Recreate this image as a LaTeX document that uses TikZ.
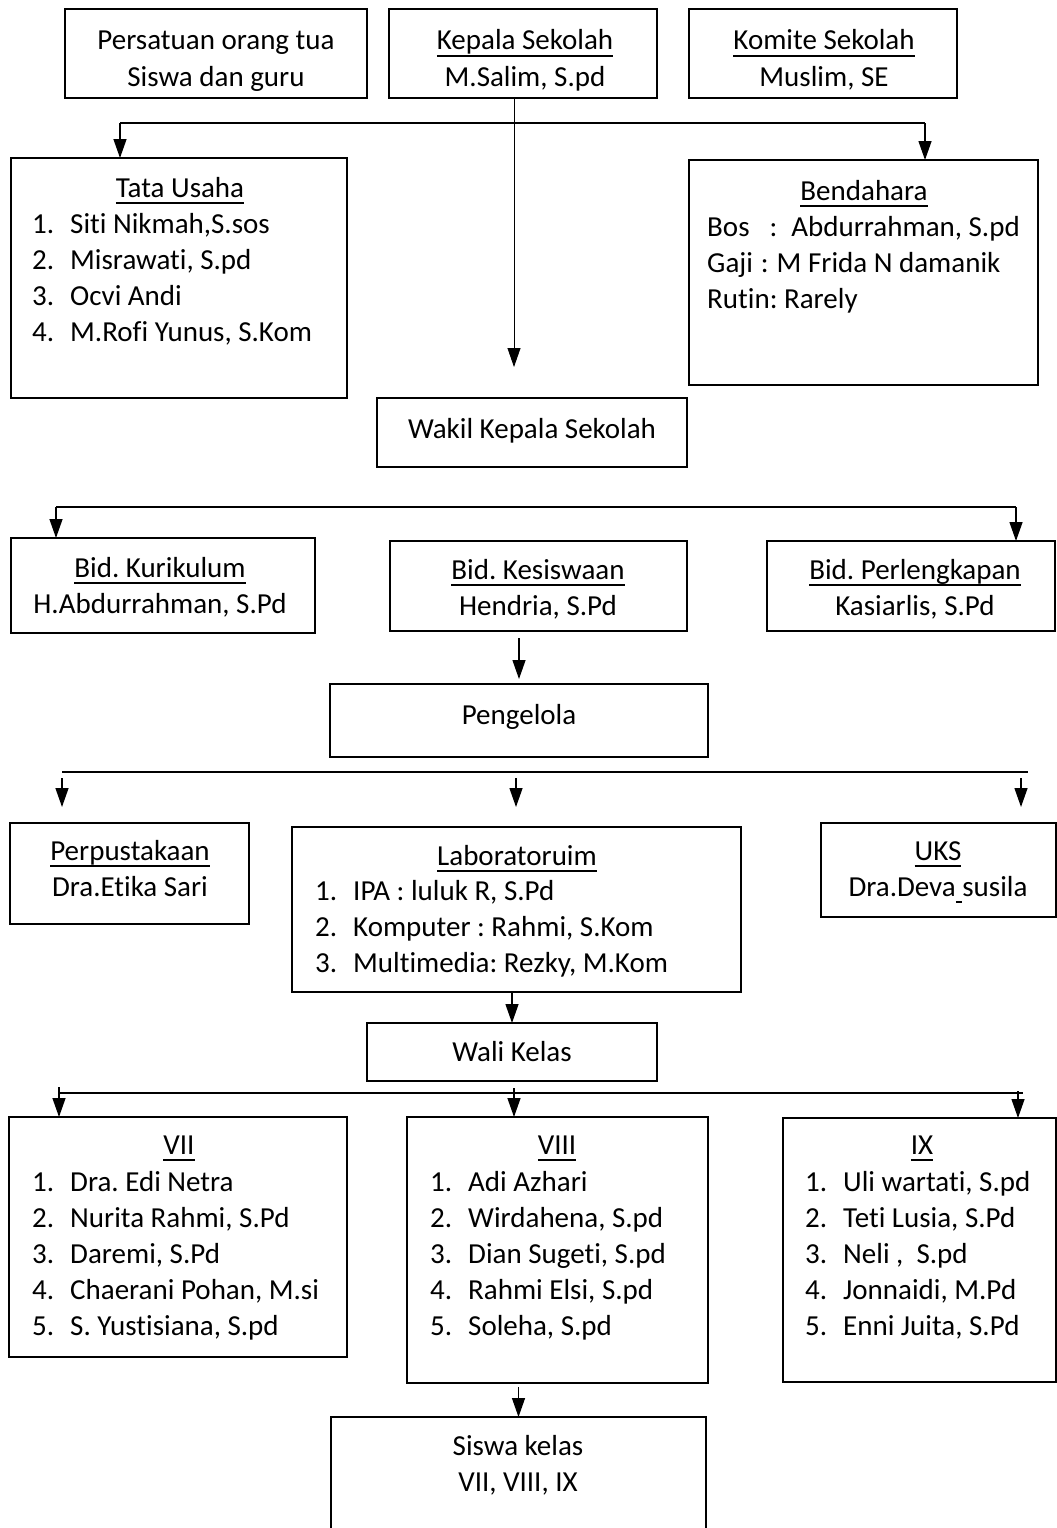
\documentclass[tikz,border=0pt]{standalone}
\usepackage{fontspec}
\setmainfont{Carlito}[Ligatures={NoCommon}, Contextuals={NoAlternate}]
\usepackage{tikz}
\usetikzlibrary{arrows.meta}

\frenchspacing
\newcommand{\fs}{\fontsize{29}{36}\selectfont}
\newsavebox{\ttlbox}
\newcommand{\ttl}[1]{\sbox{\ttlbox}{#1}\rlap{\rule[-7pt]{\wd\ttlbox}{2pt}}\usebox{\ttlbox}}
\newcommand{\itm}[1]{\makebox[38pt][l]{#1.}}

\begin{document}
\begin{tikzpicture}[x=1pt, y=-1pt,
    box/.style={draw, line width=1.5pt, anchor=north west, inner sep=0pt, outer sep=0pt},
    txt/.style={font=\fs, align=center, anchor=base, inner sep=0pt},
    lst/.style={font=\fs, align=left, anchor=base west, inner sep=0pt},
    arr/.style={-{Triangle[length=19pt,width=13pt]}, line width=1.3pt},
    bar/.style={line width=2.2pt}]
	\useasboundingbox (0,0) rectangle (1057,1528);

	% top row (text nodes sit on the baseline of their last line)
	\node[box, minimum width=302pt, minimum height=89pt] (ortu) at (65,9) {};
	\node[box, minimum width=268pt, minimum height=89pt] (kepsek) at (389,9) {};
	\node[box, minimum width=268pt, minimum height=89pt] (komite) at (689,9) {};
	\node[txt] (ortu-t) at (216,86) {Persatuan orang tua\\Siswa dan guru};
	\node[txt] (kepsek-t) at (525,86) {\ttl{Kepala Sekolah}\\M.Salim, S.pd};
	\node[txt] (komite-t) at (824,86) {\ttl{Komite Sekolah}\\Muslim, SE};

	% tata usaha, bendahara, wakil
	\node[box, minimum width=336pt, minimum height=240pt] (tata) at (11,158) {};
	\node[box, minimum width=349pt, minimum height=225pt] (benda) at (689,160) {};
	\node[box, minimum width=310pt, minimum height=69pt] (wakil) at (377,398) {};
	\node[txt] (tata-t) at (180,197) {\ttl{Tata Usaha}};
	\node[lst] (tata-l) at (32,341) {\itm{1}Siti Nikmah,S.sos\\\itm{2}Misrawati, S.pd\\\itm{3}Ocvi Andi\\\itm{4}M.Rofi Yunus, S.Kom};
	\node[txt] (benda-t) at (864,200) {\ttl{Bendahara}};
	\node[lst] (benda-l) at (707,308) {Bos\hspace{20pt}:\hspace{14pt}Abdurrahman, S.pd\\Gaji\hspace{8pt}:\hspace{8pt}M Frida N damanik\\Rutin: Rarely};
	\node[txt] (wakil-t) at (532,438) {Wakil Kepala Sekolah};

	\coordinate (k-end) at (514,367);
	\draw[arr, line width=0.8pt] (kepsek.south -| k-end) -- (k-end);
	\coordinate (b1l) at (120,123);
	\coordinate (b1r) at (925,123);
	\draw[bar] (b1l) -- (b1r);
	\draw[arr] (b1l) -- (b1l |- tata.north);
	\draw[arr] (b1r) -- (b1r |- benda.north);

	% bidang
	\node[box, minimum width=304pt, minimum height=95pt] (kurik) at (11,538) {};
	\node[box, minimum width=297pt, minimum height=90pt] (kesis) at (390,541) {};
	\node[box, minimum width=288pt, minimum height=90pt] (perl) at (767,541) {};
	\node[txt] (kurik-t) at (160,613) {\ttl{Bid. Kurikulum}\\H.Abdurrahman, S.Pd};
	\node[txt] (kesis-t) at (538,615) {\ttl{Bid. Kesiswaan}\\Hendria, S.Pd};
	\node[txt] (perl-t) at (915,615) {\ttl{Bid. Perlengkapan}\\Kasiarlis, S.Pd};

	\coordinate (b2l) at (56,507);
	\coordinate (b2r) at (1016,507);
	\draw[bar] (b2l) -- (b2r);
	\draw[arr] (b2l) -- (b2l |- kurik.north);
	\draw[arr] (b2r) -- (b2r |- perl.north);

	% pengelola
	\node[box, minimum width=378pt, minimum height=73pt] (peng) at (330,684) {};
	\node[txt] (peng-t) at (519,724) {Pengelola};
	\coordinate (p-end) at (519,679);
	\draw[arr] (kesis.south -| p-end) ++(0,7) -- (p-end);

	\coordinate (b3l) at (62,772);
	\coordinate (b3r) at (1028,772);
	\draw[bar] (b3l) -- (b3r);
	\coordinate (t-perpus) at (62,807);
	\coordinate (t-lab) at (516,807);
	\coordinate (t-uks) at (1021,807);
	\foreach \t in {t-perpus,t-lab,t-uks}
		\draw[arr] (\t) ++(0,-29) -- (\t);

	\node[box, minimum width=239pt, minimum height=101pt] (perpus) at (10,823) {};
	\node[box, minimum width=449pt, minimum height=165pt] (lab) at (292,827) {};
	\node[box, minimum width=235pt, minimum height=94pt] (uks) at (821,823) {};
	\node[txt] (perpus-t) at (130,896) {\ttl{Perpustakaan}\\Dra.Etika Sari};
	\node[txt] (lab-t) at (517,865) {\ttl{Laboratoruim}};
	\node[lst] (lab-l) at (315,972) {\itm{1}IPA : luluk R, S.Pd\\\itm{2}Komputer : Rahmi, S.Kom\\\itm{3}Multimedia: Rezky, M.Kom};
	\node[txt] (uks-t) at (938,896) {\ttl{UKS}\\Dra.Deva\ttl{\ }susila};

	% wali kelas
	\node[box, minimum width=290pt, minimum height=58pt] (wali) at (367,1023) {};
	\node[txt] (wali-t) at (512,1061) {Wali Kelas};
	\draw[arr] (lab.south -| wali.north) -- (wali.north);

	\coordinate (b4l) at (59,1093);
	\coordinate (b4r) at (1023,1093);
	\draw[bar] (b4l) -- (b4r);

	\node[box, minimum width=338pt, minimum height=240pt] (vii) at (9,1117) {};
	\node[box, minimum width=301pt, minimum height=266pt] (viii) at (407,1117) {};
	\node[box, minimum width=273pt, minimum height=264pt] (ix) at (783,1118) {};
	\coordinate (c7) at (59,1087);
	\coordinate (c8) at (514,1088);
	\coordinate (c9) at (1018,1091);
	\draw[arr] (c7) -- (c7 |- vii.north);
	\draw[arr] (c8) -- (c8 |- viii.north);
	\draw[arr] (c9) -- (c9 |- ix.north);

	\node[txt] (vii-t) at (179,1154) {\ttl{VII}};
	\node[lst] (vii-l) at (32,1335) {\itm{1}Dra. Edi Netra\\\itm{2}Nurita Rahmi, S.Pd\\\itm{3}Daremi, S.Pd\\\itm{4}Chaerani Pohan, M.si\\\itm{5}S. Yustisiana, S.pd};
	\node[txt] (viii-t) at (557,1154) {\ttl{VIII}};
	\node[lst] (viii-l) at (430,1335) {\itm{1}Adi Azhari\\\itm{2}Wirdahena, S.pd\\\itm{3}Dian Sugeti, S.pd\\\itm{4}Rahmi Elsi, S.pd\\\itm{5}Soleha, S.pd};
	\node[txt] (ix-t) at (922,1154) {\ttl{IX}};
	\node[lst] (ix-l) at (805,1335) {\itm{1}Uli wartati, S.pd\\\itm{2}Teti Lusia, S.Pd\\\itm{3}Neli ,\ \ S.pd\\\itm{4}Jonnaidi, M.Pd\\\itm{5}Enni Juita, S.Pd};

	% siswa
	\node[box, minimum width=375pt, minimum height=130pt] (siswa) at (331,1417) {};
	\node[txt] (siswa-t) at (518,1491) {Siswa kelas\\VII, VIII, IX};
	\draw[arr] (viii.south -| siswa.north) ++(0,4) -- (siswa.north);
\end{tikzpicture}
\end{document}
